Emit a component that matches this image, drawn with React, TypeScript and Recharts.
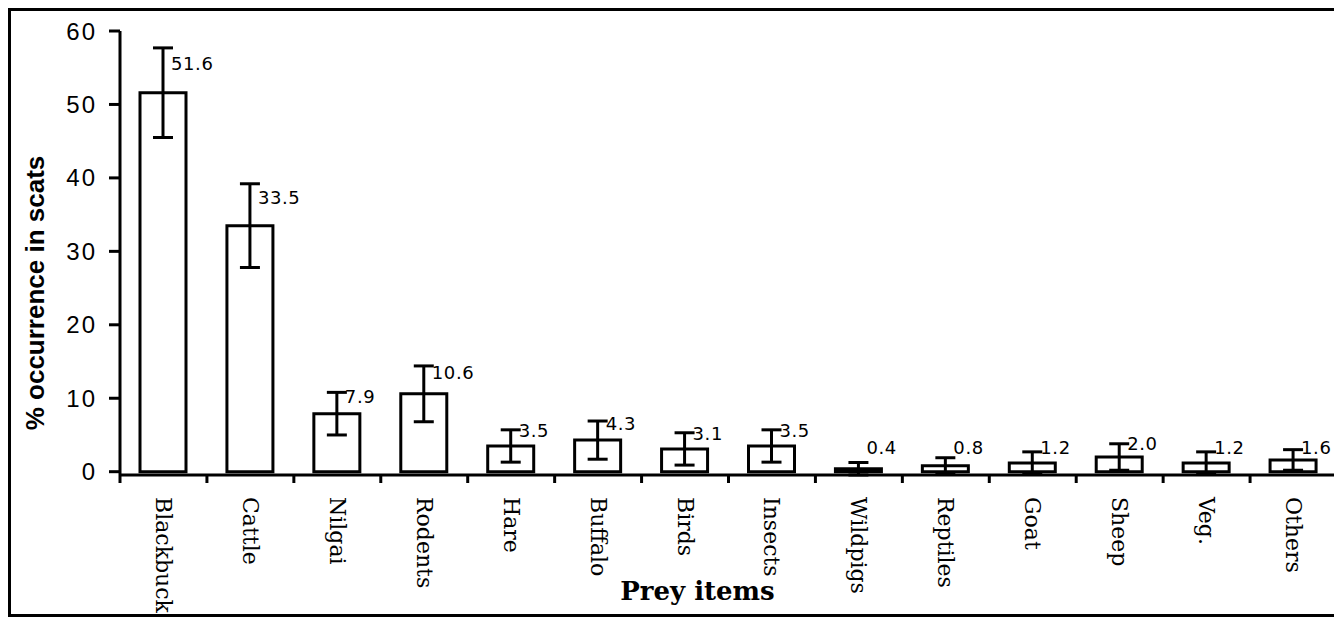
import React from 'react';
import { BarChart, Bar, XAxis, YAxis, ErrorBar, LabelList } from 'recharts';

const categories = ['Blackbuck', 'Cattle', 'Nilgai', 'Rodents', 'Hare', 'Buffalo', 'Birds', 'Insects', 'Wildpigs', 'Reptiles', 'Goat', 'Sheep', 'Veg.', 'Others'];
const occurrence = [51.6, 33.5, 7.9, 10.6, 3.5, 4.3, 3.1, 3.5, 0.4, 0.8, 1.2, 2.0, 1.2, 1.6];
const errors = [6.1, 5.7, 2.9, 3.8, 2.2, 2.6, 2.2, 2.2, 0.85, 1.1, 1.5, 1.8, 1.5, 1.4];
const valueLabels = ['51.6', '33.5', '7.9', '10.6', '3.5', '4.3', '3.1', '3.5', '0.4', '0.8', '1.2', '2.0', '1.2', '1.6'];
const yTicks = [0, 10, 20, 30, 40, 50, 60];

const data = categories.map((c, i) => ({ name: c, value: occurrence[i], err: errors[i], label: valueLabels[i] }));

const XTick = (props: any) => {
  const { x, y, payload } = props;
  const off = payload && payload.offset != null ? payload.offset : 43.5;
  const axisY = y - 22;
  return (
    <g>
      <line x1={x - off} y1={axisY} x2={x - off} y2={axisY + 8} stroke="#000" strokeWidth={3} />
      <text
        x={x}
        y={y}
        transform={`rotate(90, ${x}, ${y})`}
        textAnchor="start"
        dominantBaseline="central"
        fontFamily="'DejaVu Serif', serif"
        fontSize={22}
        fill="#000"
      >
        {payload.value}
      </text>
    </g>
  );
};

const YTick = (props: any) => {
  const { x, y, payload } = props;
  return (
    <text
      x={x}
      y={y}
      textAnchor="end"
      dominantBaseline="central"
      fontFamily="'Liberation Sans', Arial, sans-serif"
      fontSize={24}
      letterSpacing={2}
      fill="#000"
    >
      {payload.value}
    </text>
  );
};

const ValueLabel = (props: any) => {
  const { x, y, width, height, index } = props;
  const v = occurrence[index];
  const e = errors[index];
  const pxPerUnit = height / v;
  const cx = x + width / 2;
  const errTop = y - e * pxPerUnit;
  const y0 = y + height;
  const mid = (errTop + y) / 2;
  const cy = Math.min(mid - 7, y0 - 24);
  return (
    <text
      x={cx + 8}
      y={cy}
      dominantBaseline="central"
      fontFamily="'DejaVu Sans', Verdana, sans-serif"
      fontSize={18}
      letterSpacing={0.6}
      fill="#000"
    >
      {valueLabels[index]}
    </text>
  );
};

const YTitle = (props: any) => {
  const { viewBox } = props;
  const cx = viewBox.x + 24;
  const cy = viewBox.y + viewBox.height / 2 + 40;
  return (
    <text
      x={cx}
      y={cy}
      transform={`rotate(-90, ${cx}, ${cy})`}
      textAnchor="middle"
      dominantBaseline="central"
      fontFamily="'Liberation Sans', Arial, sans-serif"
      fontWeight="bold"
      fontSize={26}
      fill="#000"
    >
      % occurrence in scats
    </text>
  );
};

const XTitle = (props: any) => {
  const { viewBox } = props;
  const cx = viewBox.x + viewBox.width / 2 - 31;
  const cy = viewBox.y + 125;
  return (
    <text
      x={cx}
      y={cy}
      textAnchor="middle"
      fontFamily="'DejaVu Serif', serif"
      fontWeight="bold"
      fontSize={26}
      fill="#000"
    >
      Prey items
    </text>
  );
};

export default function App() {
  return (
    <div style={{ width: 1332, height: 609, border: '3px solid #000', boxSizing: 'border-box', background: '#fff' }}>
      <BarChart width={1326} height={603} data={data} margin={{ top: 20, right: 0, left: 0, bottom: 0 }} barSize={46}>
        <XAxis
          dataKey="name"
          height={139}
          interval={0}
          axisLine={{ stroke: '#000', strokeWidth: 3 }}
          tickLine={false}
          tickSize={8}
          tickMargin={14}
          tick={<XTick />}
          label={<XTitle />}
        />
        <YAxis
          width={109}
          domain={[0, 60]}
          ticks={yTicks}
          interval={0}
          axisLine={{ stroke: '#000', strokeWidth: 3 }}
          tickLine={{ stroke: '#000', strokeWidth: 3 }}
          tickSize={11}
          tickMargin={12}
          tick={<YTick />}
          label={<YTitle />}
        />
        <Bar dataKey="value" fill="#fff" stroke="#000" strokeWidth={3} isAnimationActive={false}>
          <ErrorBar dataKey="err" width={10} stroke="#000" strokeWidth={3} direction="y" />
          <LabelList dataKey="label" content={<ValueLabel />} />
        </Bar>
      </BarChart>
    </div>
  );
}
